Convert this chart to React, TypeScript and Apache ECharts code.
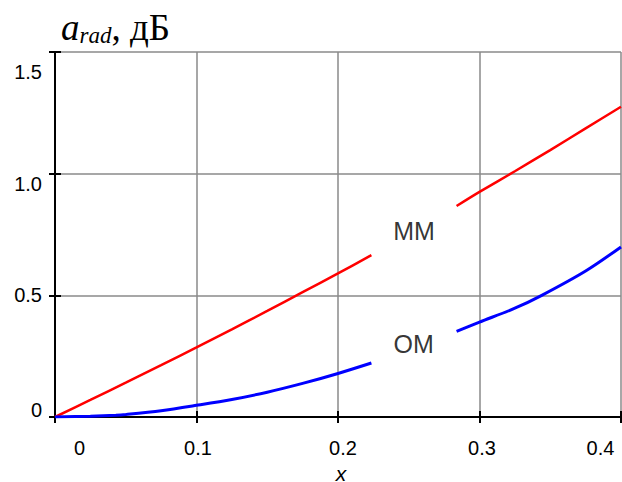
import React, { useEffect, useRef } from 'react';
import * as echarts from 'echarts';

const xTickLabels = ['0', '0.1', '0.2', '0.3', '0.4'];
const yTickLabels = ['0', '0.5', '1.0', '1.5'];

// MM curve (red), two segments
const mmX1 = [0, 0.025, 0.05, 0.075, 0.1, 0.125, 0.15, 0.175, 0.2, 0.2236];
const mmY1 = [0, 0.07, 0.141, 0.213, 0.286, 0.36, 0.436, 0.513, 0.59, 0.665];
const mmX2 = [0.2838, 0.3, 0.325, 0.35, 0.375, 0.4];
const mmY2 = [0.867, 0.925, 1.01, 1.097, 1.186, 1.275];

// OM curve (blue), two segments
const omX1 = [0, 0.025, 0.043, 0.05, 0.075, 0.1, 0.125, 0.15, 0.175, 0.2, 0.2236];
const omY1 = [0, 0.003, 0.007, 0.01, 0.026, 0.048, 0.072, 0.102, 0.138, 0.179, 0.222];
const omX2 = [0.2838, 0.3, 0.325, 0.344, 0.375, 0.4];
const omY2 = [0.352, 0.39, 0.447, 0.5, 0.6, 0.699];

// curve annotations
const curveNames = ['MM', 'OM'];
const curveNameX = [0.2537, 0.2535];
const curveNameY = [0.765, 0.3];

const zip = (xs: number[], ys: number[]) => xs.map((x, i) => [x, ys[i]]);

const SANS = '"Liberation Sans", Arial, sans-serif';
const SERIF = '"Liberation Serif", "Times New Roman", serif';

export default function App() {
  const ref = useRef<HTMLDivElement>(null);
  useEffect(() => {
    if (!ref.current) return;
    const chart = echarts.init(ref.current, undefined, { renderer: 'svg' });
    const xRichKeys = ['x0', 'x1', 'x2', 'x3', 'x4'];
    const yRichKeys = ['y0', 'y1', 'y2', 'y3'];
    const lab = { fontFamily: SANS, fontSize: 20, color: '#000' };
    const lineStyleAxis = { color: '#000', width: 2 };
    const tickStyle = { show: true, inside: true, length: 6, lineStyle: { color: '#000', width: 2 } };
    const lineCommon = { symbol: 'none', showSymbol: false, smooth: 0.3 };
    const option: any = {
      animation: false,
      backgroundColor: '#fff',
      grid: { left: 55, right: 1, top: 52, bottom: 65, containLabel: false, outerBoundsMode: 'none' },
      graphic: [
        {
          type: 'text',
          x: 61,
          y: 27,
          style: {
            text: '{a|a}{s|rad}{n|, дБ}',
            verticalAlign: 'middle',
            rich: {
              a: { fontFamily: SERIF, fontStyle: 'italic', fontSize: 37, color: '#000' },
              s: { fontFamily: SERIF, fontStyle: 'italic', fontSize: 23, color: '#000', padding: [16, 0, 0, 0] },
              n: { fontFamily: SERIF, fontSize: 37, color: '#000' },
            },
          },
        },
      ],
      xAxis: [
        {
          type: 'value',
          position: 'bottom',
          min: 0,
          max: 0.4,
          interval: 0.1,
          name: 'x',
          nameLocation: 'middle',
          nameGap: 39,
          nameTextStyle: {
            fontFamily: SANS,
            fontSize: 21,
            fontStyle: 'italic',
            color: '#000',
            padding: [0, 0, 0, 6],
          },
          axisLine: { show: true, lineStyle: lineStyleAxis },
          axisTick: tickStyle,
          splitLine: { show: true, lineStyle: { color: '#8a8a8a', width: 1.5 } },
          axisLabel: {
            margin: 21,
            showMinLabel: true,
            showMaxLabel: true,
            formatter: (v: number) => {
              const i = Math.round(v / 0.1);
              return '{' + xRichKeys[i] + '|' + xTickLabels[i] + '}';
            },
            rich: {
              x0: { ...lab, padding: [0, 0, 0, 49] },
              x1: { ...lab, padding: [0, 0, 0, 3] },
              x2: { ...lab, padding: [0, 0, 0, 10] },
              x3: { ...lab, padding: [0, 0, 0, 5] },
              x4: { ...lab, padding: [0, 41, 0, 0] },
            },
          },
        },
        {
          type: 'value',
          position: 'top',
          min: 0,
          max: 0.4,
          interval: 0.1,
          axisLine: { show: true, lineStyle: lineStyleAxis },
          axisTick: tickStyle,
          axisLabel: { show: false },
          splitLine: { show: false },
        },
      ],
      yAxis: [
        {
          type: 'value',
          position: 'left',
          min: 0,
          max: 1.5,
          interval: 0.5,
          axisLine: { show: true, lineStyle: lineStyleAxis },
          axisTick: tickStyle,
          splitLine: { show: true, lineStyle: { color: '#8a8a8a', width: 1.5 } },
          axisLabel: {
            margin: 13,
            showMinLabel: true,
            showMaxLabel: true,
            formatter: (v: number) => {
              const i = Math.round(v / 0.5);
              return '{' + yRichKeys[i] + '|' + yTickLabels[i] + '}';
            },
            rich: {
              y0: { ...lab, padding: [0, 0, 14, 0] },
              y1: { ...lab, padding: [0, 0, 0, 0] },
              y2: { ...lab, padding: [20, 0, 0, 0] },
              y3: { ...lab, padding: [40, 0, 0, 0] },
            },
          },
        },
        {
          type: 'value',
          position: 'right',
          min: 0,
          max: 1.5,
          interval: 0.5,
          axisLine: { show: true, lineStyle: lineStyleAxis },
          axisTick: tickStyle,
          axisLabel: { show: false },
          splitLine: { show: false },
        },
      ],
      series: [
        { type: 'line', name: 'MM', data: zip(mmX1, mmY1), ...lineCommon, lineStyle: { color: '#ff0000', width: 2.5 }, z: 3 },
        { type: 'line', name: 'MM', data: zip(mmX2, mmY2), ...lineCommon, lineStyle: { color: '#ff0000', width: 2.5 }, z: 3 },
        { type: 'line', name: 'OM', data: zip(omX1, omY1), ...lineCommon, lineStyle: { color: '#0000ff', width: 3 }, z: 4 },
        { type: 'line', name: 'OM', data: zip(omX2, omY2), ...lineCommon, lineStyle: { color: '#0000ff', width: 3 }, z: 4 },
        {
          type: 'scatter',
          silent: true,
          symbolSize: 0,
          data: curveNames.map((n, i) => ({ name: n, value: [curveNameX[i], curveNameY[i]] })),
          label: {
            show: true,
            position: 'inside',
            formatter: '{b}',
            fontFamily: SANS,
            fontSize: 25,
            color: '#000',
          },
          z: 5,
        },
      ],
    };
    chart.setOption(option);
    return () => chart.dispose();
  }, []);
  return (
    <div
      ref={ref}
      style={{ position: 'fixed', left: 0, top: 0, width: 622, height: 482, background: '#fff' }}
    />
  );
}
